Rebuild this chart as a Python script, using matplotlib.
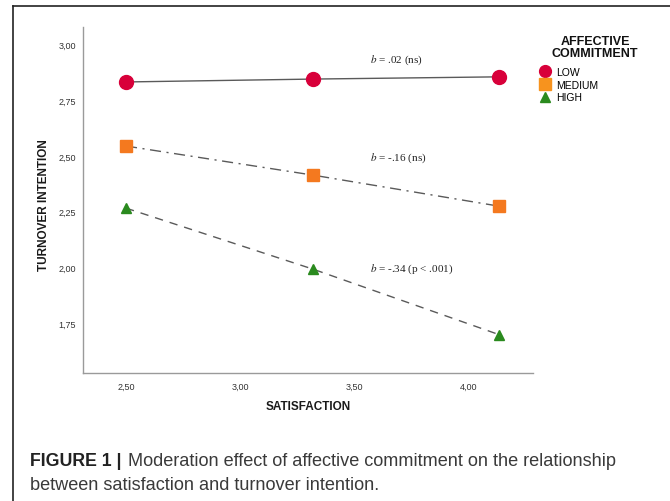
import matplotlib
matplotlib.use("Agg")
import matplotlib.pyplot as plt
from matplotlib.lines import Line2D

plt.rcParams['font.family'] = ['Liberation Sans', 'DejaVu Sans']
plt.rcParams['mathtext.fontset'] = 'stix'

# Data
satisfaction = [2.50, 3.32, 4.13]
low = [2.833, 2.846, 2.856]
medium = [2.545, 2.414, 2.275]
high = [2.266, 1.991, 1.698]
series_labels = ["LOW", "MEDIUM", "HIGH"]
annotations = ["$b$ = .02 (ns)", "$b$ = -.16 (ns)", "$b$ = -.34 (p < .001)"]
annot_y = [2.937, 2.495, 1.995]
annot_x = 3.567
xticks = [2.50, 3.00, 3.50, 4.00]
xtick_labels = ["2,50", "3,00", "3,50", "4,00"]
yticks = [1.75, 2.00, 2.25, 2.50, 2.75, 3.00]
ytick_labels = ["1,75", "2,00", "2,25", "2,50", "2,75", "3,00"]

red = "#D8003A"
orange = "#F4791F"
green = "#2A8A1E"
line_col = "#5a5a5a"

fig = plt.figure(figsize=(6.70, 5.02), dpi=100)
ax = fig.add_axes([83/670, 1-374/502, (533-83)/670, (374-28)/502])

ax.plot(satisfaction, low, color=line_col, lw=1.0, ls='-', zorder=2)
ax.plot(satisfaction, medium, color=line_col, lw=1.0, ls=(0, (8, 4, 1.5, 4)), zorder=2)
ax.plot(satisfaction, high, color=line_col, lw=1.0, ls=(0, (6, 5)), zorder=2)
ax.plot(satisfaction, low, ls='none', marker='o', ms=10, color=red, mec=red, zorder=3)
ax.plot(satisfaction, medium, ls='none', marker='s', ms=9, color=orange, mec=orange, zorder=3)
ax.plot(satisfaction, high, ls='none', marker='^', ms=7.5, color=green, mec=green, zorder=3)

for txt, yy in zip(annotations, annot_y):
    ax.text(annot_x, yy, txt, fontsize=8, family='Liberation Serif', va='center', ha='left', color='#222222')

ax.set_xlim(2.312, 4.280)
ax.set_ylim(1.525, 3.08)
ax.set_xticks(xticks)
ax.set_xticklabels(xtick_labels)
ax.set_yticks(yticks)
ax.set_yticklabels(ytick_labels)
ax.tick_params(length=0, labelsize=6.5, labelcolor='#333333')
ax.tick_params(axis='x', pad=6)
ax.tick_params(axis='y', pad=5)
for s in ['top', 'right']:
    ax.spines[s].set_visible(False)
for s in ['left', 'bottom']:
    ax.spines[s].set_color('#9a9a9a')
    ax.spines[s].set_linewidth(1.0)

fig.text(308/670, 1-407/502, "SATISFACTION", fontsize=8.5, fontweight='bold', ha='center', va='center', color='#1a1a1a')
fig.text(44/670, 1-205/502, "TURNOVER INTENTION", fontsize=8.5, fontweight='bold', ha='center', va='center', rotation=90, color='#1a1a1a')

handles = [
    Line2D([], [], ls='none', marker='o', ms=8.5, color=red),
    Line2D([], [], ls='none', marker='s', ms=8.5, color="#F7931E"),
    Line2D([], [], ls='none', marker='^', ms=7, color=green),
]
leg = ax.legend(handles, series_labels, loc='upper left',
                bbox_to_anchor=(541/670, 1-68/502), bbox_transform=fig.transFigure,
                frameon=False, handlelength=0.8, handletextpad=0.65, labelspacing=0.25,
                fontsize=7.5, borderpad=0.0, borderaxespad=0.0)
fig.text(595/670, 1-48/502, "AFFECTIVE\nCOMMITMENT", fontsize=9, fontweight='bold',
         ha='center', va='center', linespacing=0.95, color='#111111')

fig.text(30/670, 1-462/502, "FIGURE 1 |", fontsize=12.8, fontweight='bold', ha='left', va='center', color='#222222')
fig.text(128/670, 1-462/502, "Moderation effect of affective commitment on the relationship", fontsize=13.1, ha='left', va='center', color='#3a3a3a')
fig.text(30/670, 1-486/502, "between satisfaction and turnover intention.", fontsize=13.1, ha='left', va='center', color='#3a3a3a')

fig.add_artist(Line2D([13/670, 1.0], [1-7/502, 1-7/502], color='#222222', lw=1.2, transform=fig.transFigure))
fig.add_artist(Line2D([13/670, 13/670], [1-7/502, 0.0], color='#222222', lw=1.2, transform=fig.transFigure))

fig.savefig("out.png", dpi=100)
